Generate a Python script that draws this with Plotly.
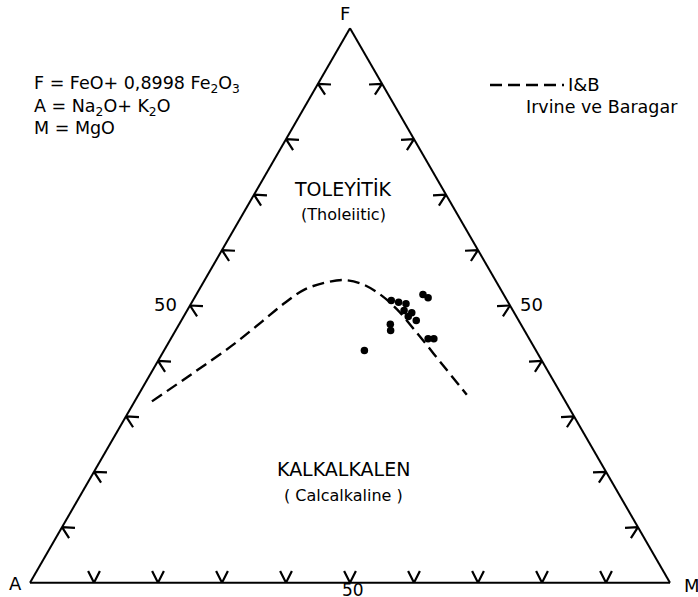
import numpy as np
import plotly.graph_objects as go

# Irvine & Baragar (1971) tholeiitic / calc-alkaline boundary (AFM, %)
ib_F = [32.7, 37.7, 42.8, 47.1, 50.5, 52.9, 54.1, 54.6, 53.9, 52.0, 49.3, 45.5, 39.9, 33.9]
ib_M = [2.7, 6.5, 10.2, 12.7, 14.6, 16.5, 19.0, 21.6, 24.9, 28.7, 32.7, 37.4, 44.1, 51.3]
ib_A = [64.6, 55.8, 47.0, 40.2, 34.9, 30.6, 26.9, 23.8, 21.2, 19.3, 18.0, 17.1, 16.0, 14.8]

# Analysed samples (AFM, %)
smp_F = [41.9, 50.9, 50.6, 50.3, 52.0, 51.4, 49.1, 48.7, 48.0, 47.3, 46.6, 45.5, 44.0, 44.0]
smp_M = [31.3, 31.0, 32.3, 33.6, 35.4, 36.5, 33.9, 35.3, 35.1, 36.7, 33.0, 33.6, 40.2, 41.1]
smp_A = [26.8, 18.1, 17.1, 16.1, 12.6, 12.1, 17.0, 16.0, 16.9, 16.0, 20.4, 20.9, 15.8, 14.9]

# Tick positions along every side (%)
tick_vals = [10, 20, 30, 40, 50, 60, 70, 80, 90]

W, H = 698, 597
ML, MR, MT, MB = 30, 28, 28, 14
SIDE_PX = W - ML - MR          # triangle side length in pixels
ARM_PX = 13                    # chevron arm length
HALF_ANGLE = np.radians(27)    # chevron half opening
FONT = "DejaVu Sans"


def shift(dx, dy):
    """Pixel displacement (x right, y up) -> change of (F, A, M) in %."""
    dF = 2.0 * dy / (SIDE_PX * np.sqrt(3)) * 100.0
    dM = (dx - dy / np.sqrt(3)) / SIDE_PX * 100.0
    return dF, -dF - dM, dM


def chevrons(tips, normal_deg):
    """Open chevrons whose tip sits on a side and whose arms open inward."""
    fa, aa, ma = [], [], []
    th = np.radians(normal_deg)
    for f, a, m in tips:
        for sgn in (1, 0, -1):
            if sgn == 0:
                fa.append(f); aa.append(a); ma.append(m)
            else:
                ang = th + sgn * HALF_ANGLE
                dF, dA, dM = shift(ARM_PX * np.cos(ang), ARM_PX * np.sin(ang))
                fa.append(f + dF); aa.append(a + dA); ma.append(m + dM)
        fa.append(None); aa.append(None); ma.append(None)
    return fa, aa, ma


fig = go.Figure()

# Tick chevrons on the three sides
sides = [
    ([(t, 100 - t, 0) for t in tick_vals], -30),   # A-F side
    ([(0, 100 - t, t) for t in tick_vals], 90),    # A-M side
    ([(t, 0, 100 - t) for t in tick_vals], 210),   # M-F side
]
for tips, nrm in sides:
    fa, aa, ma = chevrons(tips, nrm)
    fig.add_trace(go.Scatterternary(
        a=fa, b=aa, c=ma, mode="lines",
        line=dict(color="black", width=2.2),
        hoverinfo="skip", showlegend=False,
    ))

DASH = "12px,6px"

# Boundary curve
fig.add_trace(go.Scatterternary(
    a=ib_F, b=ib_A, c=ib_M, mode="lines", name="I&B",
    line=dict(color="black", width=2.4, dash=DASH, shape="spline", smoothing=1.0),
    showlegend=False,
))

# Samples
fig.add_trace(go.Scatterternary(
    a=smp_F, b=smp_A, c=smp_M, mode="markers",
    marker=dict(color="black", size=7.5, line=dict(width=0)),
    showlegend=False,
))

axis_style = dict(
    showgrid=False, showline=True, linecolor="black", linewidth=2,
    ticks="", showticklabels=False, title=dict(text=""), min=0,
)
fig.update_layout(
    width=W, height=H,
    margin=dict(l=ML, r=MR, t=MT, b=MB),
    paper_bgcolor="white", plot_bgcolor="white",
    showlegend=False,
    ternary=dict(
        sum=100, bgcolor="white",
        domain=dict(x=[0, 1], y=[0, 1]),
        aaxis=axis_style, baxis=axis_style, caxis=axis_style,
    ),
)


def px(x, y):
    return (x - ML) / SIDE_PX, (H - MB - y) / (H - MT - MB)


def label(text, x, y, size=16, xanchor="center", yanchor="middle"):
    xp, yp = px(x, y)
    fig.add_annotation(
        text=text, x=xp, y=yp, xref="paper", yref="paper",
        xanchor=xanchor, yanchor=yanchor, showarrow=False,
        font=dict(family=FONT, size=size, color="black"),
    )


# Corner names
label("F", 345, 13, size=18)
label("A", 15, 583, size=18)
label("M", 692, 585, size=18)

# 50 % marks
label("50", 179, 304, size=18, xanchor="right")
label("50", 518, 304, size=18, xanchor="left")
label("50", 353, 590, size=17)

# Definition of the apices
label("F = FeO+ 0,8998 Fe<sub>2</sub>O<sub>3</sub>", 32, 85, size=17.5, xanchor="left")
label("A = Na<sub>2</sub>O+ K<sub>2</sub>O", 32, 107, size=17.5, xanchor="left")
label("M = MgO", 32, 128, size=17.5, xanchor="left")

# Key for the boundary curve
kx0, ky = px(490, 85)
kx1, _ = px(564, 85)
fig.add_shape(type="line", xref="paper", yref="paper",
              x0=kx0, x1=kx1, y0=ky, y1=ky,
              line=dict(color="black", width=2.4, dash=DASH))
label("I&amp;B", 566, 85, size=18, xanchor="left")
label("Irvine ve Baragar", 602, 107, size=17.5)

# Field names
label("TOLEYİTİK", 343, 189, size=19)
label("(Tholeiitic)", 343, 214, size=16)
label("KALKALKALEN", 343, 469, size=19)
label("( Calcalkaline )", 343, 495, size=16)

fig.write_html("out.html")
